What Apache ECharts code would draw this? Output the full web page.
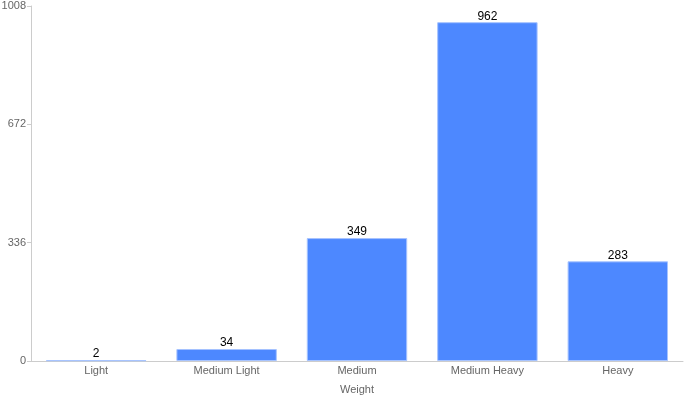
<!DOCTYPE html>
<html><head><meta charset="utf-8">
<script src="https://cdn.jsdelivr.net/npm/echarts@6/dist/echarts.min.js"></script>
<style>html,body{margin:0;padding:0;background:#fff}#c{width:700px;height:400px}</style>
</head><body><div id="c"></div>
<script>
const categories = ["Light", "Medium Light", "Medium", "Medium Heavy", "Heavy"];
const counts = [2, 34, 349, 962, 283];
const yTicks = [0, 336, 672, 1008];

const chart = echarts.init(document.getElementById('c'), null, {renderer: 'canvas'});
chart.setOption({
  animation: false,
  textStyle: {fontFamily: 'Liberation Sans, Arial, sans-serif'},
  grid: {left: 31, right: 17, top: 6, bottom: 39, containLabel: false, outerBoundsMode: 'none'},
  xAxis: {
    type: 'category', data: categories,
    name: 'Weight', nameLocation: 'middle', nameGap: 23,
    nameTextStyle: {color: '#666', fontSize: 11},
    axisLine: {lineStyle: {color: '#ccc'}},
    axisTick: {alignWithLabel: true, length: 4, lineStyle: {color: '#ccc'}},
    axisLabel: {color: '#666', fontSize: 11, margin: 4}
  },
  yAxis: {
    type: 'value', min: 0, max: yTicks[yTicks.length - 1], interval: yTicks[1],
    axisLine: {show: true, lineStyle: {color: '#ccc'}},
    axisTick: {show: true, length: 4, lineStyle: {color: '#ccc'}},
    axisLabel: {color: '#666', fontSize: 11, margin: 5, formatter: v => String(v)},
    splitLine: {show: false}
  },
  series: [{
    type: 'bar', data: counts, barCategoryGap: '23%',
    itemStyle: {color: '#4d88ff', borderColor: '#a6c3ff', borderWidth: 1},
    label: {show: true, position: 'top', distance: 0, color: '#000', fontSize: 12}
  }]
});
</script></body></html>
